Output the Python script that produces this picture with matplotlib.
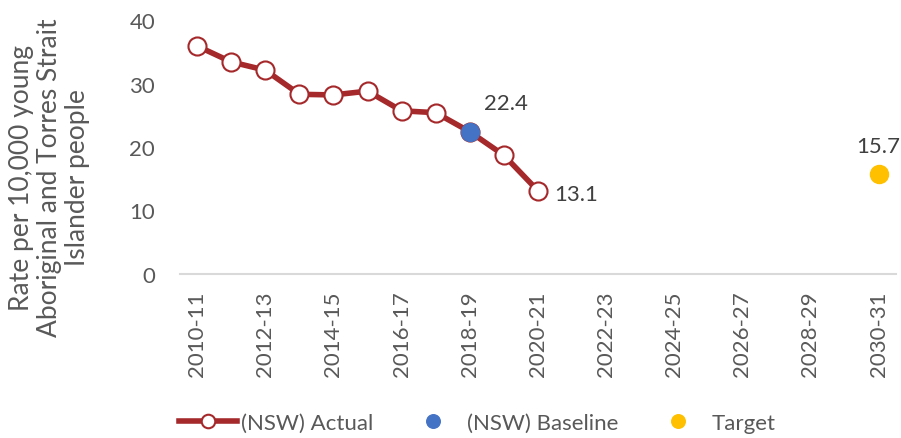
import matplotlib.pyplot as plt
import numpy as np

years = [f"{y}-{str(y + 1)[2:]}" for y in range(2010, 2031)]
actual = [35.9, 33.4, 32.1, 28.3, 28.2, 28.8, 25.7, 25.4, 22.4, 18.7, 13.1]
baseline_year = "2018-19"
baseline_value = 22.4
target_year = "2030-31"
target_value = 15.7

RED = "#A5282A"
BLUE = "#4472C4"
GOLD = "#FFC000"
GREY = "#595959"
FS = 16

plt.rcParams["font.family"] = ["Lato", "DejaVu Sans"]

fig = plt.figure(figsize=(9.01, 4.39), dpi=100)
ax = fig.add_axes([0.2, 0.374, 0.794, 0.578])

x = np.arange(len(years))
xa = x[: len(actual)]
ax.plot(xa, actual, color=RED, lw=4, marker="o", ms=13, mfc="white",
        mec=RED, mew=1.5, label="(NSW) Actual", zorder=3)
bi = years.index(baseline_year)
ax.plot([bi], [baseline_value], ls="none", marker="o", ms=13, color=BLUE,
        mec=BLUE, label="(NSW) Baseline", zorder=4)
ti = years.index(target_year)
ax.plot([ti], [target_value], ls="none", marker="o", ms=13, color=GOLD,
        mec=GOLD, label="Target", zorder=4)

ax.annotate(f"{baseline_value}", (bi, baseline_value), xytext=(10, 16),
            textcoords="offset points", fontsize=FS, color="#404040")
ax.annotate(f"{actual[-1]}", (xa[-1], actual[-1]), xytext=(12, -7),
            textcoords="offset points", fontsize=FS, color="#404040")
ax.annotate(f"{target_value}", (ti, target_value), xytext=(0, 16),
            textcoords="offset points", fontsize=FS, color="#404040", ha="center")

ax.set_xlim(-0.5, len(years) - 0.5)
ax.set_ylim(0, 40)
ax.set_yticks([0, 10, 20, 30, 40])
ax.set_xticks(x[::2])
ax.set_xticklabels(years[::2], rotation=90)
ax.tick_params(axis="both", length=0, labelsize=FS, labelcolor=GREY)
ax.tick_params(axis="y", pad=18)
ax.tick_params(axis="x", pad=12)
for s in ["top", "right", "left"]:
    ax.spines[s].set_visible(False)
ax.spines["bottom"].set_color("#D9D9D9")
ax.spines["bottom"].set_linewidth(1.5)

# y title sits lower than the plot centre in the original
fig.text(50 / 901, 1 - 178 / 439,
         "Rate per 10,000 young\nAboriginal and Torres Strait\nIslander people",
         rotation=90, ha="center", va="center", multialignment="center",
         fontsize=19, color=GREY, linespacing=1.15)

ax.legend(loc="center", bbox_to_anchor=(0.415, -0.588), ncol=3, frameon=False,
          fontsize=FS, labelcolor=GREY, handlelength=2.6, columnspacing=1.4,
          handletextpad=0.2, markerscale=0.75)

fig.savefig("out.png", dpi=100)
